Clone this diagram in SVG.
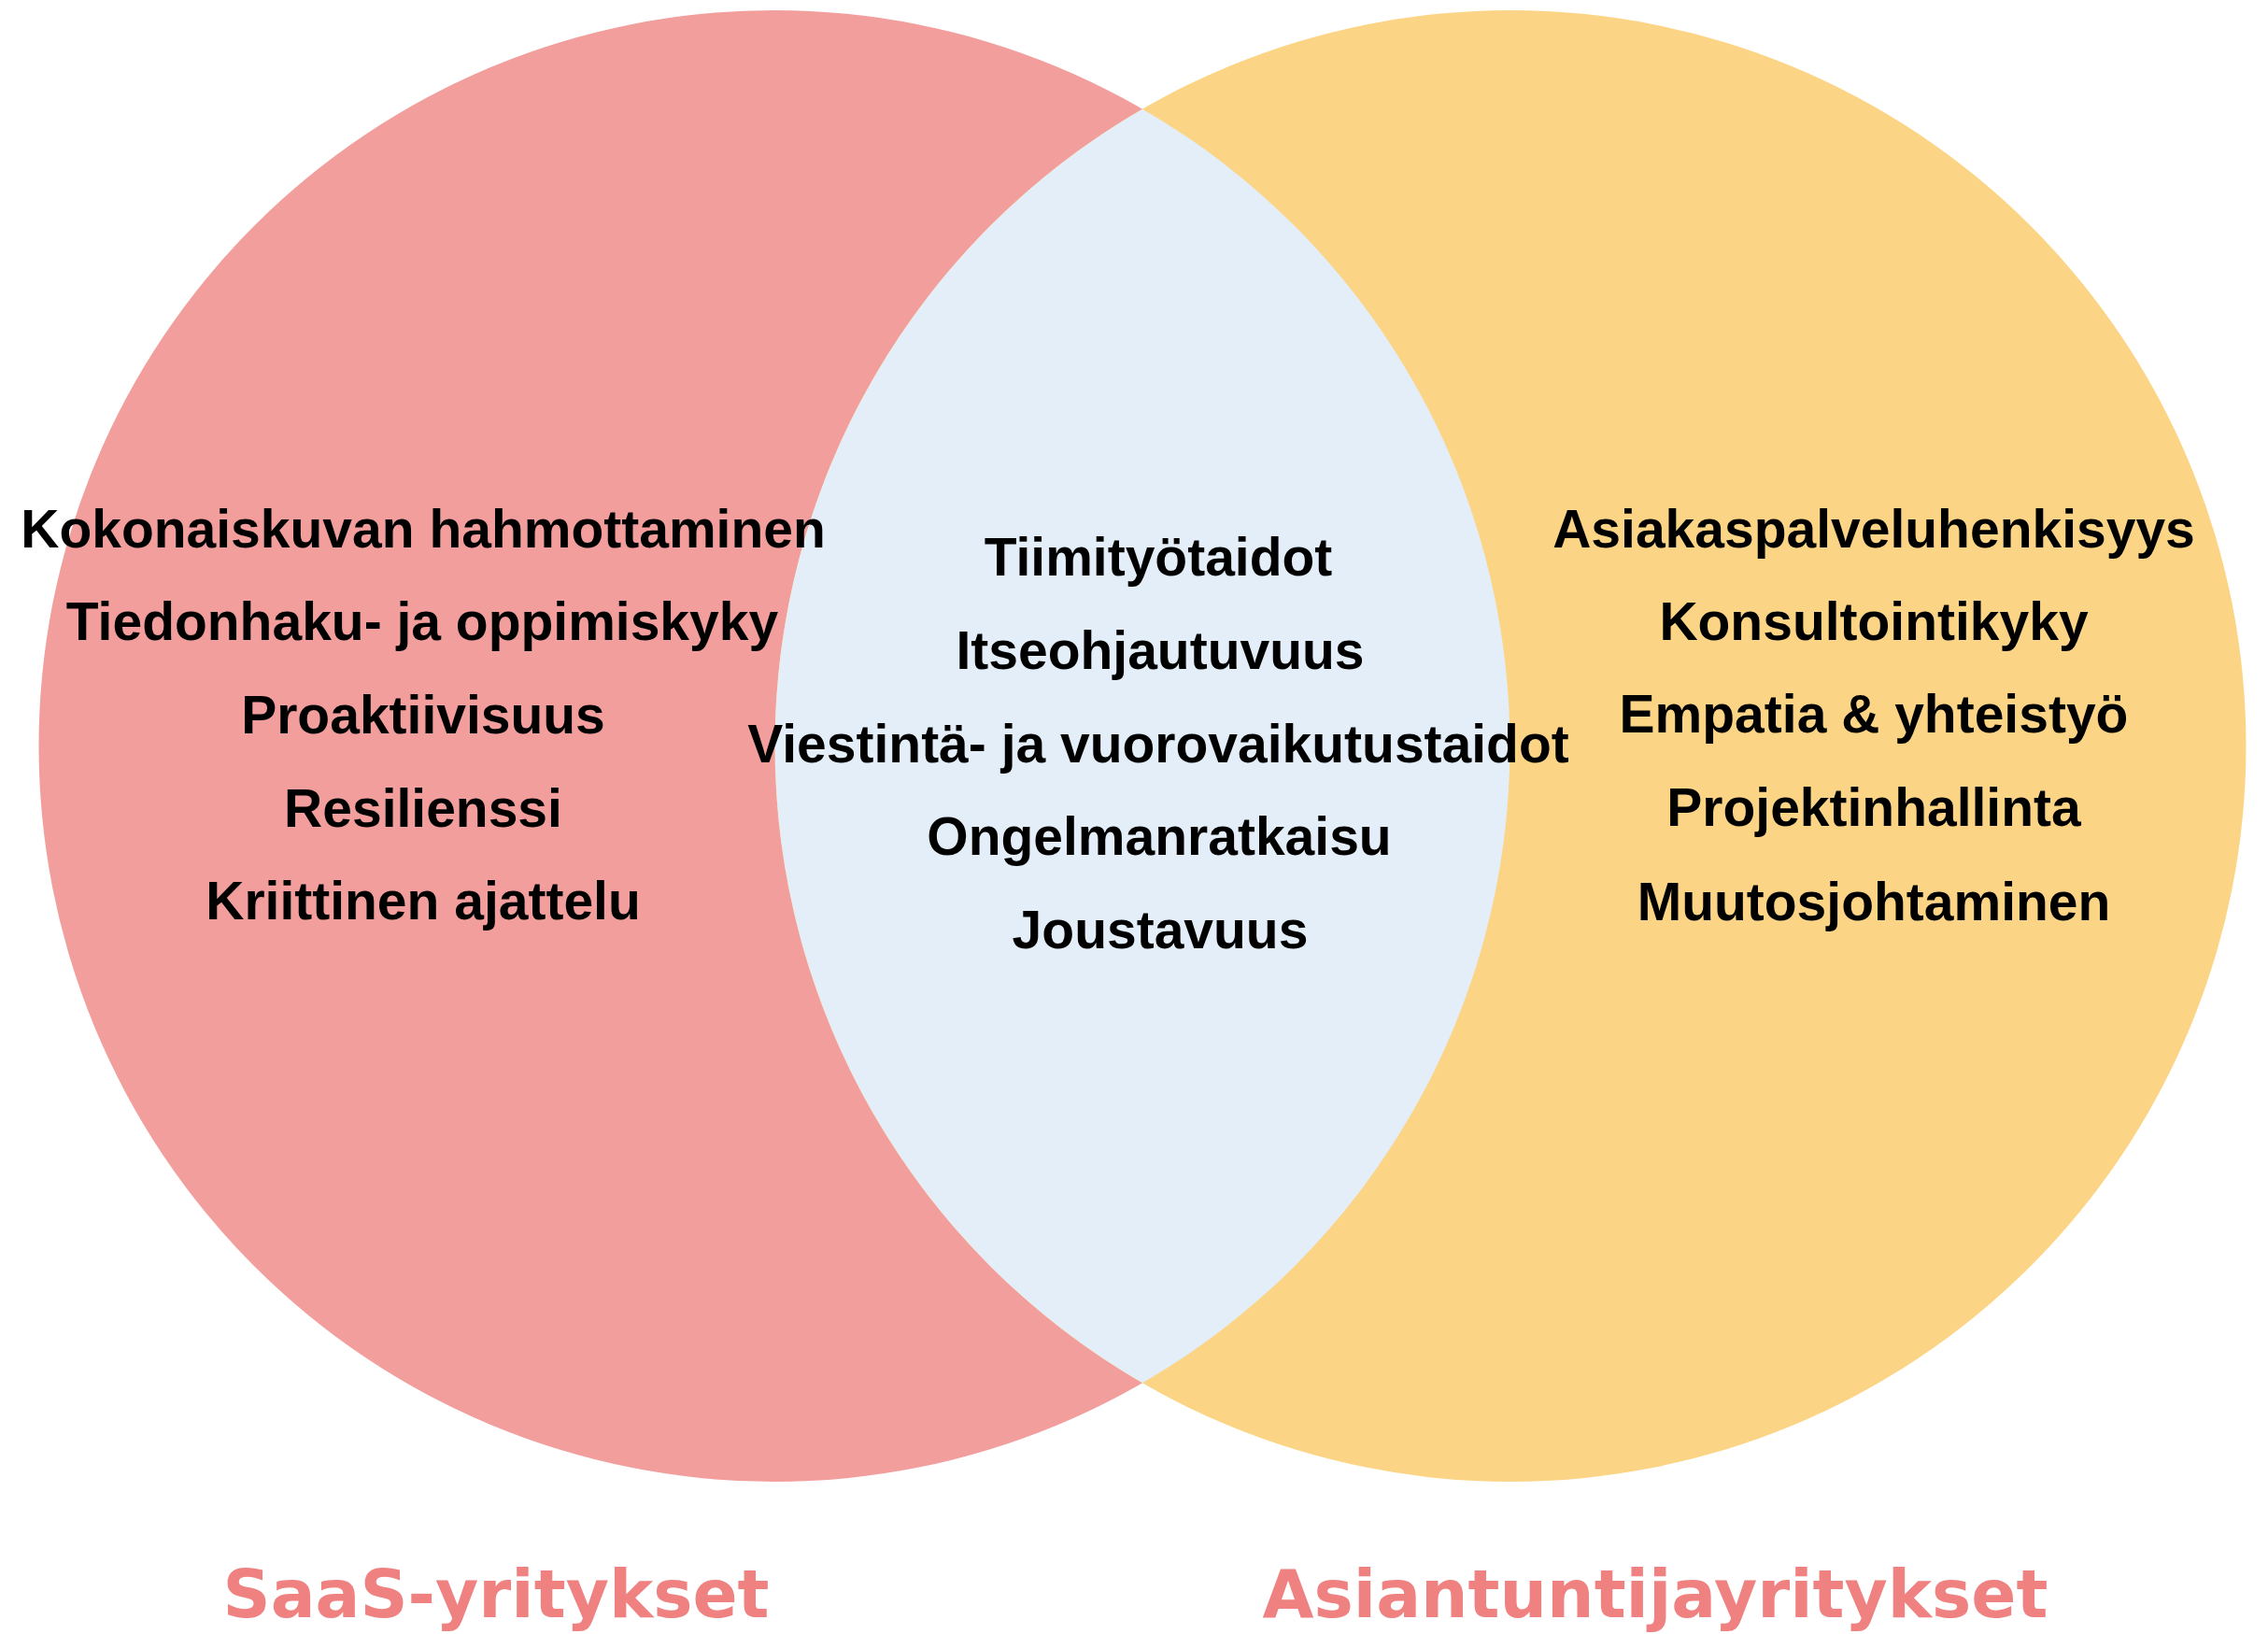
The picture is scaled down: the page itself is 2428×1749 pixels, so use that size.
<svg xmlns="http://www.w3.org/2000/svg" width="2428" height="1749" viewBox="0 0 2428 1749">
<style>
.item{font-family:"Liberation Sans",Arial,sans-serif;font-weight:bold;font-size:57px;fill:#000;text-anchor:middle}
.title{font-family:"DejaVu Sans",sans-serif;font-weight:bold;font-size:71px;fill:#EF8181;text-anchor:middle}
</style>
<rect width="2428" height="1749" fill="#ffffff"/>
<g id="set-saas">
<circle cx="829" cy="798.5" r="787.5" fill="#F29E9C"/>
</g>
<g id="set-asiantuntija">
<circle cx="1617" cy="798.5" r="787.5" fill="#FBD585"/>
</g>
<g id="set-intersection">
<path d="M1223 116.7 A787.5 787.5 0 0 1 1223 1480.3 A787.5 787.5 0 0 1 1223 116.7 Z" fill="#E4EEF9"/>
</g>
<g id="connectors"/>
<g id="items-saas">
<text class="item" x="453" y="586">Kokonaiskuvan hahmottaminen</text>
<text class="item" x="452" y="685">Tiedonhaku- ja oppimiskyky</text>
<text class="item" x="453" y="785">Proaktiivisuus</text>
<text class="item" x="453" y="885">Resilienssi</text>
<text class="item" x="453" y="984">Kriittinen ajattelu</text>
</g>
<g id="items-common">
<text class="item" x="1240" y="616">Tiimityötaidot</text>
<text class="item" x="1242" y="716">Itseohjautuvuus</text>
<text class="item" x="1240" y="816">Viestintä- ja vuorovaikutustaidot</text>
<text class="item" x="1241" y="915">Ongelmanratkaisu</text>
<text class="item" x="1242" y="1015">Joustavuus</text>
</g>
<g id="items-asiantuntija">
<text class="item" x="2006" y="586">Asiakaspalveluhenkisyys</text>
<text class="item" x="2006" y="685">Konsultointikyky</text>
<text class="item" x="2006" y="784">Empatia &amp; yhteistyö</text>
<text class="item" x="2006" y="884">Projektinhallinta</text>
<text class="item" x="2006" y="985">Muutosjohtaminen</text>
</g>
<g id="label-saas">
<text class="title" x="531" y="1731">SaaS-yritykset</text>
</g>
<g id="label-asiantuntija">
<text class="title" x="1772" y="1731">Asiantuntijayritykset</text>
</g>
</svg>
